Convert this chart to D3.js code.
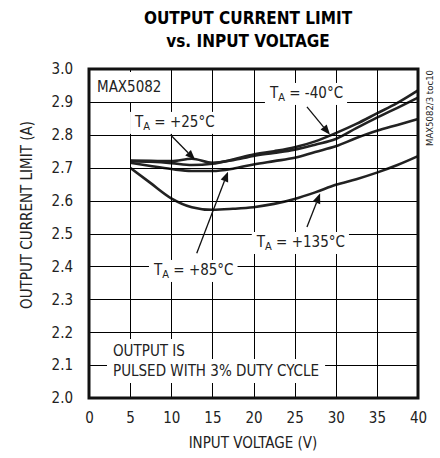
<!DOCTYPE html>
<html>
<head>
<meta charset="utf-8">
<script src="https://cdn.jsdelivr.net/npm/d3@7"></script>
<style>
  body { margin: 0; background: #fff; }
  text { font-family: "Liberation Sans Narrow", "DejaVu Sans Condensed", sans-serif; fill: #222; }
</style>
</head>
<body>
<script>
// output current limit vs input voltage

var voltage = [5, 7.5, 10, 12.5, 15, 17.5, 20, 22.5, 25, 27.5, 30, 32.5, 35, 37.5, 40];
var tMinus40 = [2.72, 2.718, 2.714, 2.708, 2.712, 2.725, 2.74, 2.75, 2.762, 2.78, 2.805, 2.833, 2.865, 2.897, 2.935];
var tPlus25 = [2.722, 2.721, 2.72, 2.727, 2.715, 2.723, 2.736, 2.745, 2.755, 2.77, 2.787, 2.82, 2.852, 2.882, 2.913];
var tPlus85 = [2.715, 2.705, 2.696, 2.69, 2.69, 2.697, 2.71, 2.72, 2.73, 2.748, 2.765, 2.79, 2.812, 2.83, 2.848];
var tPlus135 = [2.70, 2.653, 2.607, 2.58, 2.572, 2.575, 2.58, 2.59, 2.605, 2.625, 2.648, 2.665, 2.685, 2.708, 2.735];

var xTicks = [0, 5, 10, 15, 20, 25, 30, 35, 40];
var yTicks = [2.0, 2.1, 2.2, 2.3, 2.4, 2.5, 2.6, 2.7, 2.8, 2.9, 3.0];

// labels: text start / baseline and arrow from -> to, in data units
var notes = [
  { name: "-40\u00b0C", tx: 22.0, ty: 2.912, ax: 26.5, ay: 2.885, bx: 29.3, by: 2.80 },
  { name: "+25\u00b0C", tx: 5.6, ty: 2.824, ax: 9.9, ay: 2.80, bx: 12.9, by: 2.724 },
  { name: "+85\u00b0C", tx: 7.9, ty: 2.374, ax: 13.1, ay: 2.44, bx: 16.9, by: 2.688 },
  { name: "+135\u00b0C", tx: 20.4, ty: 2.459, ax: 26.5, ay: 2.52, bx: 28.1, by: 2.622 }
];

var series = [tMinus40, tPlus25, tPlus85, tPlus135];

var svg = d3.select("body").append("svg").attr("width", 440).attr("height", 458);

var x = d3.scaleLinear().domain([0, 40]).range([89, 418]);
var y = d3.scaleLinear().domain([2.0, 3.0]).range([398, 69]);

// title
svg.append("text").attr("x", 248).attr("y", 24).attr("text-anchor", "middle")
  .style("font-size", "17px").style("font-weight", "bold").style("fill", "#000")
  .text("OUTPUT CURRENT LIMIT");
svg.append("text").attr("x", 248).attr("y", 47).attr("text-anchor", "middle")
  .style("font-size", "17px").style("font-weight", "bold").style("fill", "#000")
  .text("vs. INPUT VOLTAGE");

// tick labels via axes
var xAxis = svg.append("g").attr("transform", "translate(0,398)")
  .call(d3.axisBottom(x).tickValues(xTicks).tickSize(0).tickPadding(14).tickFormat(d3.format("d")));
var yAxis = svg.append("g").attr("transform", "translate(89,0)")
  .call(d3.axisLeft(y).tickValues(yTicks).tickSize(0).tickPadding(16).tickFormat(d3.format(".1f")));
[xAxis, yAxis].forEach(function (a) {
  a.select(".domain").remove();
  a.selectAll(".tick line").remove();
  a.selectAll("text").style("font-size", "15px").attr("fill", "#222")
    .style("font-family", "\"Liberation Sans Narrow\", \"DejaVu Sans Condensed\", sans-serif");
});

// axis titles
svg.append("text").attr("x", 253).attr("y", 448).attr("text-anchor", "middle")
  .style("font-size", "15px").text("INPUT VOLTAGE (V)");
svg.append("text").attr("transform", "translate(32,215) rotate(-90)").attr("text-anchor", "middle")
  .style("font-size", "15px").text("OUTPUT CURRENT LIMIT (A)");
svg.append("text").attr("transform", "translate(433,70) rotate(-90)").attr("text-anchor", "end")
  .style("font-size", "9.5px").text("MAX5082/3 toc10");

// curves
var line = d3.line()
  .x(function (d, i) { return x(voltage[i]); })
  .y(function (d) { return y(d); })
  .curve(d3.curveMonotoneX);

svg.append("g").selectAll("path").data(series).join("path")
  .attr("fill", "none").attr("stroke", "#222").attr("stroke-width", 2.6)
  .attr("d", function (d) { return line(d); });

// grid as thin filled bars
var grid = svg.append("g");
grid.selectAll("rect.gv").data(xTicks.slice(1, -1)).join("rect").attr("class", "gv")
  .attr("x", function (d) { return Math.round(x(d)); }).attr("y", 69)
  .attr("width", 1).attr("height", 329).attr("fill", "#000");
grid.selectAll("rect.gh").data(yTicks.slice(1, -1)).join("rect").attr("class", "gh")
  .attr("x", 89).attr("y", function (d) { return Math.round(y(d)); })
  .attr("width", 329).attr("height", 1).attr("fill", "#000");

// arrows
var arrows = svg.append("g");
notes.forEach(function (n) {
  var x1 = x(n.ax), y1 = y(n.ay), x2 = x(n.bx), y2 = y(n.by);
  var ang = Math.atan2(y2 - y1, x2 - x1), len = 10, w = 4;
  var bxp = x2 - len * Math.cos(ang), byp = y2 - len * Math.sin(ang);
  arrows.append("path").attr("fill", "none").attr("stroke", "#111").attr("stroke-width", 1.3)
    .attr("d", "M" + x1 + "," + y1 + "L" + bxp + "," + byp);
  arrows.append("path").attr("fill", "#111").attr("stroke", "none")
    .attr("d", "M" + x2 + "," + y2 +
      "L" + (bxp + w * Math.sin(ang)) + "," + (byp - w * Math.cos(ang)) +
      "L" + (bxp - w * Math.sin(ang)) + "," + (byp + w * Math.cos(ang)) + "Z");
});

// white boxes for labels
function box(g, t, padX, padY) {
  var b = t.node().getBBox();
  g.insert("rect", "text").attr("x", b.x - padX).attr("y", b.y - padY)
    .attr("width", b.width + 2 * padX).attr("height", b.height + 2 * padY).attr("fill", "#fff");
}

var mg = svg.append("g");
var mt = mg.append("text").attr("x", 97).attr("y", 92).style("font-size", "15px").text("MAX5082");
box(mg, mt, 8, 6);

var og = svg.append("g");
var ot1 = og.append("text").attr("x", 113).attr("y", 356).style("font-size", "15px").text("OUTPUT IS");
var ot2 = og.append("text").attr("x", 113).attr("y", 376).style("font-size", "15px").text("PULSED WITH 3% DUTY CYCLE");
box(og, ot2, 6, 3);
box(og, ot1, 6, 3);

var labels = svg.append("g");
notes.forEach(function (n) {
  var g = labels.append("g");
  var t = g.append("text").attr("x", x(n.tx)).attr("y", y(n.ty)).style("font-size", "15px");
  t.append("tspan").text("T");
  t.append("tspan").attr("dy", 3).style("font-size", "11px").text("A");
  t.append("tspan").attr("dy", -3).text(" = " + n.name);
  box(g, t, 4, 1);
});

// frame
svg.append("path").attr("d", "M89,69H418V398H89Z")
  .attr("fill", "none").attr("stroke", "#111").attr("stroke-width", 3);
</script>
</body>
</html>
